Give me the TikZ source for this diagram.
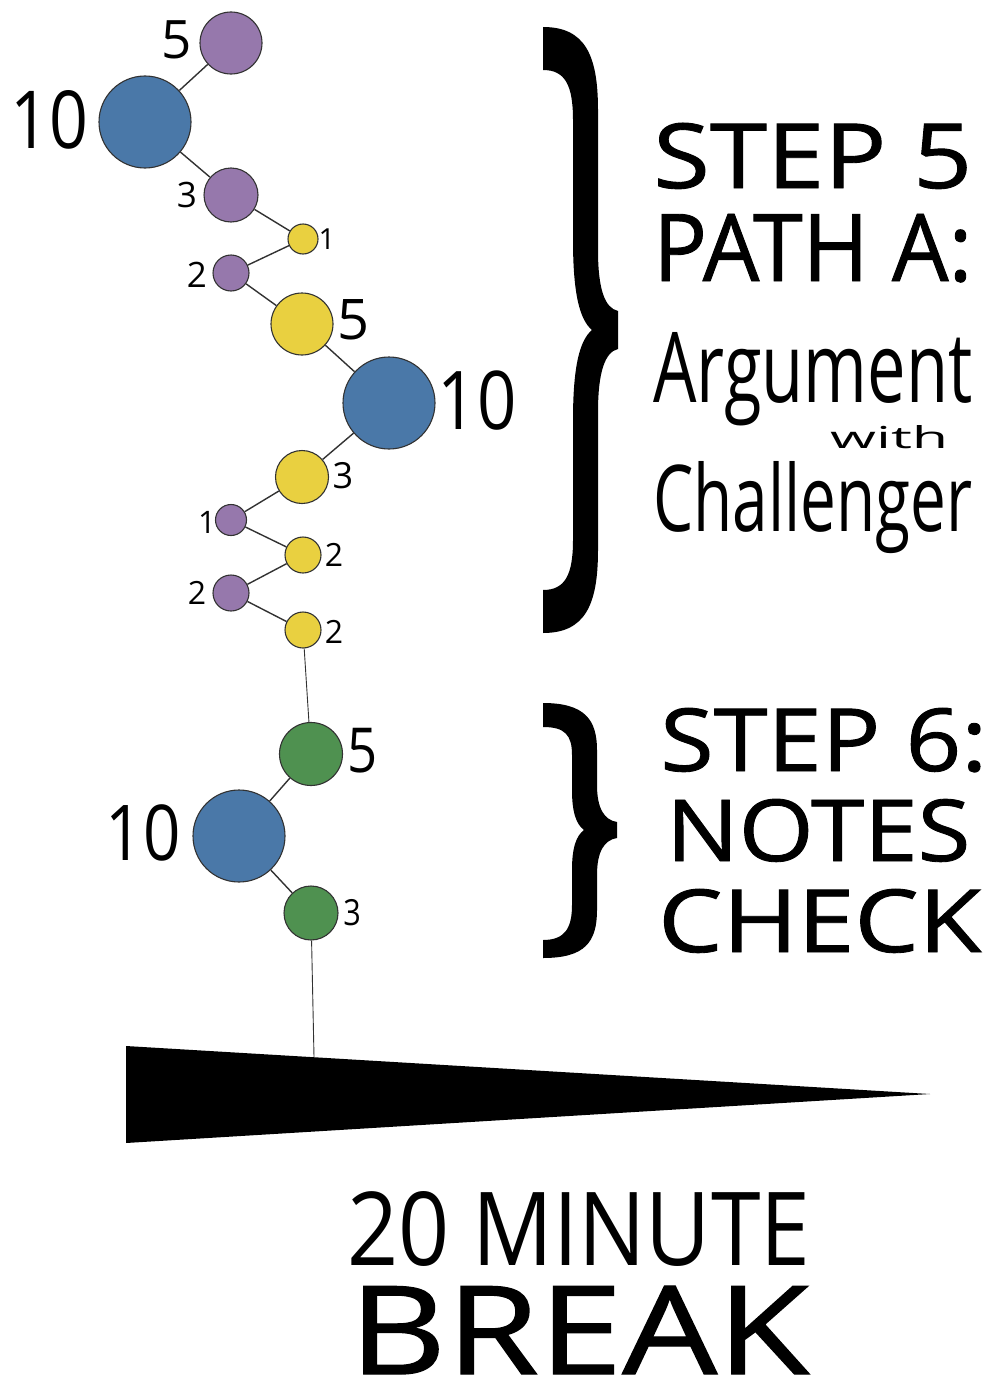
\documentclass[tikz,border=0pt]{standalone}
\usepackage{fontspec}
\usepackage{graphicx}
\setmainfont{Open Sans}
\newfontfamily\heavy{Open Sans}[FakeBold=1]
\definecolor{cpurple}{RGB}{150,120,172}
\definecolor{cblue}{RGB}{74,120,168}
\definecolor{cyellow}{RGB}{233,208,64}
\definecolor{cgreen}{RGB}{79,145,80}
\definecolor{cedge}{RGB}{50,50,50}
\newcommand{\fs}[1]{\fontsize{#1}{#1}\selectfont}
\newcommand{\fit}[3]{\resizebox{#1pt}{#2pt}{#3}}
\tikzset{
  dot/.style={circle, inner sep=0pt, draw=cedge, line width=1.1pt},
  pu/.style={dot, fill=cpurple},
  bl/.style={dot, fill=cblue},
  ye/.style={dot, fill=cyellow},
  gr/.style={dot, fill=cgreen},
  edge/.style={draw=cedge, line width=1.4pt},
  thinedge/.style={draw=cedge, line width=0.9pt},
  lab/.style={inner sep=0pt, anchor=center},
  big/.style={inner sep=0pt, anchor=base west}
}
\begin{document}
\begin{tikzpicture}[x=1pt,y=-1pt]
\useasboundingbox (0,0) rectangle (990,1381);
% circles
\node[pu, minimum size=62pt] (p5) at (231,43) {};
\node[bl, minimum size=92pt] (b10a) at (145,122) {};
\node[pu, minimum size=54pt] (p3) at (231,195) {};
\node[ye, minimum size=30pt] (y1) at (303,239) {};
\node[pu, minimum size=36pt] (p2a) at (231,273) {};
\node[ye, minimum size=62pt] (y5) at (302,324) {};
\node[bl, minimum size=92pt] (b10b) at (389,403) {};
\node[ye, minimum size=53pt] (y3) at (302,477) {};
\node[pu, minimum size=31pt] (p1) at (231,520) {};
\node[ye, minimum size=36pt] (y2a) at (303,555) {};
\node[pu, minimum size=36pt] (p2b) at (231,593) {};
\node[ye, minimum size=36pt] (y2b) at (303,630) {};
\node[gr, minimum size=63pt] (g5) at (311,754) {};
\node[bl, minimum size=92pt] (b10c) at (239,836) {};
\node[gr, minimum size=54pt] (g3) at (311,913) {};
\coordinate (wtop) at (314,1057);
% edges
\draw[edge] (p5) -- (b10a);
\draw[edge] (b10a) -- (p3);
\draw[edge] (p3) -- (y1);
\draw[edge] (y1) -- (p2a);
\draw[edge] (p2a) -- (y5);
\draw[edge] (y5) -- (b10b);
\draw[edge] (b10b) -- (y3);
\draw[edge] (y3) -- (p1);
\draw[edge] (p1) -- (y2a);
\draw[edge] (y2a) -- (p2b);
\draw[edge] (p2b) -- (y2b);
\draw[thinedge] (y2b) -- (g5);
\draw[edge] (g5) -- (b10c);
\draw[edge] (b10c) -- (g3);
\draw[thinedge] (g3) -- (wtop);
% wedge
\fill[black] (126,1046) -- (930,1094) -- (126,1143) -- cycle;
% number labels
\node[lab] (l1) at (177,40) {\fs{53}5};
\node[lab] (l2) at (49,120) {\fs{80}\scalebox{0.85}[1]{10}};
\node[lab] (l3) at (187,195) {\fs{35}3};
\node[lab] (l4) at (327,239) {\fs{29}1};
\node[lab] (l5) at (197,275) {\fs{35}2};
\node[lab] (l6) at (354,320) {\fs{56}5};
\node[lab] (l7) at (477,401) {\fs{81}\scalebox{0.85}[1]{10}};
\node[lab] (l8) at (343,476) {\fs{36}3};
\node[lab] (l9) at (207,522) {\fs{31}1};
\node[lab] (l10) at (334,555) {\fs{32}2};
\node[lab] (l11) at (197,593) {\fs{32}2};
\node[lab] (l12) at (334,632) {\fs{32}2};
\node[lab] (l13) at (363,751) {\fs{62}\scalebox{0.85}[1]{5}};
\node[lab] (l14) at (143,833) {\fs{77}\scalebox{0.85}[1]{10}};
\node[lab] (l15) at (352,913) {\fs{36}\scalebox{0.85}[1]{3}};
% braces
\fill[black] (543,27) .. controls (585,27) and (598,55) .. (598,110)
  -- (598,250) .. controls (598,290) and (605,308) .. (618,311)
  -- (618,349) .. controls (605,352) and (598,372) .. (598,412)
  -- (598,550) .. controls (598,605) and (585,633) .. (543,633)
  -- (543,590) .. controls (565,590) and (573,575) .. (573,540)
  -- (573,420) .. controls (573,365) and (580,340) .. (592,330)
  .. controls (580,320) and (573,295) .. (573,240)
  -- (573,120) .. controls (573,85) and (565,70) .. (543,70) -- cycle;
\fill[black] (543,703) .. controls (585,703) and (597,720) .. (597,750)
  -- (597,785) .. controls (597,808) and (604,820) .. (617,822)
  -- (617,838) .. controls (604,840) and (597,852) .. (597,875)
  -- (597,910) .. controls (597,942) and (585,958) .. (543,958)
  -- (543,940) .. controls (565,940) and (572,928) .. (572,905)
  -- (572,870) .. controls (572,848) and (576,836) .. (584,830)
  .. controls (576,824) and (572,812) .. (572,790)
  -- (572,755) .. controls (572,735) and (565,727) .. (543,727) -- cycle;
% texts
\node[big] (t1) at (653,188) {\heavy\fit{319}{65}{STEP 5}};
\node[big] (t2) at (653,281) {\heavy\fit{319}{67}{PATH A:}};
\node[big] (t3) at (653,402) {\fit{319}{70}{Argument}};
\node[big] (t4) at (830,448) {\fit{118}{23}{with}};
\node[big] (t5) at (653,531) {\fit{319}{70}{Challenger}};
\node[big] (t6) at (660,771) {\heavy\fit{327}{63}{STEP 6:}};
\node[big] (t7) at (666,861) {\heavy\fit{304}{62}{NOTES}};
\node[big] (t8) at (658,952) {\heavy\fit{323}{63}{CHECK}};
\node[big] (t9) at (347,1265) {\fit{463}{74}{20 MINUTE}};
\node[big] (t10) at (349,1374) {\heavy\fit{460}{88}{BREAK}};
\end{tikzpicture}
\end{document}
